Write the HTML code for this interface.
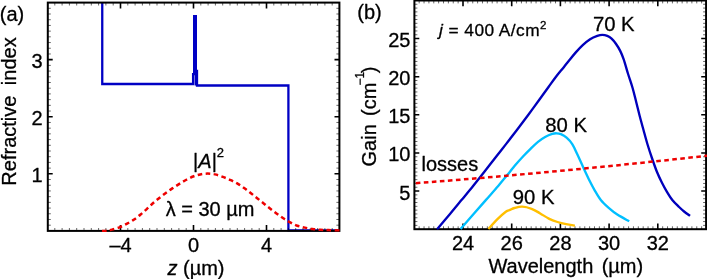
<!DOCTYPE html>
<html><head><meta charset="utf-8"><title>figure</title>
<style>html,body{margin:0;padding:0;background:#fff;}body{width:707px;height:279px;overflow:hidden;font-family:"Liberation Sans", sans-serif;}svg{display:block;}svg{will-change:transform;}</style></head>
<body>
<svg width="707" height="279" viewBox="0 0 707 279" font-family='"Liberation Sans", sans-serif' fill="#000">
<style>text{stroke:#000;stroke-width:0.3px;stroke-linejoin:round;}</style>
<rect width="707" height="279" fill="#fff"/>
<clipPath id="ca"><rect x="47.8" y="2.6" width="292.5" height="229.3"/></clipPath>
<g clip-path="url(#ca)">
<path d="M102.25,2.6 V84 H193.1 V74.2 H194.15 V16.2 H195.85 V85.5 M195.85,70.8 H197 V85.5 H288.4 V230.3 H339.4" fill="none" stroke="#0000c4" stroke-width="2.3" stroke-linejoin="miter"/>
</g>
<rect x="47.8" y="2.6" width="291.6" height="228.3" fill="none" stroke="#000" stroke-width="2.0"/>
<path d="M120.5,230.9 v-5.8 M120.5,2.6 v5.8 M193.5,230.9 v-5.8 M193.5,2.6 v5.8 M266.5,230.9 v-5.8 M266.5,2.6 v5.8" stroke="#000" stroke-width="1.6" fill="none"/>
<path d="M54.8,230.9 v-2.9 M54.8,2.6 v2.9 M62.1,230.9 v-2.9 M62.1,2.6 v2.9 M69.4,230.9 v-2.9 M69.4,2.6 v2.9 M76.7,230.9 v-2.9 M76.7,2.6 v2.9 M84,230.9 v-2.9 M84,2.6 v2.9 M91.3,230.9 v-2.9 M91.3,2.6 v2.9 M98.6,230.9 v-2.9 M98.6,2.6 v2.9 M105.9,230.9 v-2.9 M105.9,2.6 v2.9 M113.2,230.9 v-2.9 M113.2,2.6 v2.9 M127.8,230.9 v-2.9 M127.8,2.6 v2.9 M135.1,230.9 v-2.9 M135.1,2.6 v2.9 M142.4,230.9 v-2.9 M142.4,2.6 v2.9 M149.7,230.9 v-2.9 M149.7,2.6 v2.9 M157,230.9 v-2.9 M157,2.6 v2.9 M164.3,230.9 v-2.9 M164.3,2.6 v2.9 M171.6,230.9 v-2.9 M171.6,2.6 v2.9 M178.9,230.9 v-2.9 M178.9,2.6 v2.9 M186.2,230.9 v-2.9 M186.2,2.6 v2.9 M200.8,230.9 v-2.9 M200.8,2.6 v2.9 M208.1,230.9 v-2.9 M208.1,2.6 v2.9 M215.4,230.9 v-2.9 M215.4,2.6 v2.9 M222.7,230.9 v-2.9 M222.7,2.6 v2.9 M230,230.9 v-2.9 M230,2.6 v2.9 M237.3,230.9 v-2.9 M237.3,2.6 v2.9 M244.6,230.9 v-2.9 M244.6,2.6 v2.9 M251.9,230.9 v-2.9 M251.9,2.6 v2.9 M259.2,230.9 v-2.9 M259.2,2.6 v2.9 M273.8,230.9 v-2.9 M273.8,2.6 v2.9 M281.1,230.9 v-2.9 M281.1,2.6 v2.9 M288.4,230.9 v-2.9 M288.4,2.6 v2.9 M295.7,230.9 v-2.9 M295.7,2.6 v2.9 M303,230.9 v-2.9 M303,2.6 v2.9 M310.3,230.9 v-2.9 M310.3,2.6 v2.9 M317.6,230.9 v-2.9 M317.6,2.6 v2.9 M324.9,230.9 v-2.9 M324.9,2.6 v2.9 M332.2,230.9 v-2.9 M332.2,2.6 v2.9" stroke="#000" stroke-width="0.6" fill="none"/>
<path d="M47.8,173.82 h4.9 M339.4,173.82 h-4.9 M47.8,116.75 h4.9 M339.4,116.75 h-4.9 M47.8,59.67 h4.9 M339.4,59.67 h-4.9" stroke="#000" stroke-width="1.6" fill="none"/>
<path d="M47.8,225.19 h3 M339.4,225.19 h-3 M47.8,219.49 h3 M339.4,219.49 h-3 M47.8,213.78 h3 M339.4,213.78 h-3 M47.8,208.07 h3 M339.4,208.07 h-3 M47.8,202.36 h3 M339.4,202.36 h-3 M47.8,196.66 h3 M339.4,196.66 h-3 M47.8,190.95 h3 M339.4,190.95 h-3 M47.8,185.24 h3 M339.4,185.24 h-3 M47.8,179.53 h3 M339.4,179.53 h-3 M47.8,168.12 h3 M339.4,168.12 h-3 M47.8,162.41 h3 M339.4,162.41 h-3 M47.8,156.7 h3 M339.4,156.7 h-3 M47.8,151 h3 M339.4,151 h-3 M47.8,145.29 h3 M339.4,145.29 h-3 M47.8,139.58 h3 M339.4,139.58 h-3 M47.8,133.87 h3 M339.4,133.87 h-3 M47.8,128.16 h3 M339.4,128.16 h-3 M47.8,122.46 h3 M339.4,122.46 h-3 M47.8,111.04 h3 M339.4,111.04 h-3 M47.8,105.33 h3 M339.4,105.33 h-3 M47.8,99.63 h3 M339.4,99.63 h-3 M47.8,93.92 h3 M339.4,93.92 h-3 M47.8,88.21 h3 M339.4,88.21 h-3 M47.8,82.5 h3 M339.4,82.5 h-3 M47.8,76.8 h3 M339.4,76.8 h-3 M47.8,71.09 h3 M339.4,71.09 h-3 M47.8,65.38 h3 M339.4,65.38 h-3 M47.8,53.97 h3 M339.4,53.97 h-3 M47.8,48.26 h3 M339.4,48.26 h-3 M47.8,42.55 h3 M339.4,42.55 h-3 M47.8,36.84 h3 M339.4,36.84 h-3 M47.8,31.14 h3 M339.4,31.14 h-3 M47.8,25.43 h3 M339.4,25.43 h-3 M47.8,19.72 h3 M339.4,19.72 h-3 M47.8,14.01 h3 M339.4,14.01 h-3 M47.8,8.31 h3 M339.4,8.31 h-3" stroke="#000" stroke-width="0.6" fill="none"/>
<g clip-path="url(#ca)">
<path d="M102,231 C102.83,230.93 105.33,230.83 107,230.6 C108.67,230.37 109.9,230.15 112,229.6 C114.1,229.05 117.08,228.3 119.6,227.3 C122.12,226.3 124.68,224.9 127.1,223.6 C129.52,222.3 131.85,221.02 134.1,219.5 C136.35,217.98 138.45,216.28 140.6,214.5 C142.75,212.72 144.95,210.67 147,208.8 C149.05,206.93 150.85,205.1 152.9,203.3 C154.95,201.5 157.15,199.72 159.3,198 C161.45,196.28 163.63,194.6 165.8,193 C167.97,191.4 170.1,189.88 172.3,188.4 C174.5,186.92 176.73,185.5 179,184.1 C181.27,182.7 183.55,181.27 185.9,180 C188.25,178.73 190.72,177.43 193.1,176.5 C195.48,175.57 197.78,174.88 200.2,174.4 C202.62,173.92 205.13,173.6 207.6,173.6 C210.07,173.6 212.45,173.85 215,174.4 C217.55,174.95 220.27,175.93 222.9,176.9 C225.53,177.87 228.23,179 230.8,180.2 C233.37,181.4 235.9,182.67 238.3,184.1 C240.7,185.53 242.98,187.18 245.2,188.8 C247.42,190.42 249.5,192.15 251.6,193.8 C253.7,195.45 255.73,197.05 257.8,198.7 C259.87,200.35 261.97,202.07 264,203.7 C266.03,205.33 267.92,206.87 270,208.5 C272.08,210.13 274.28,211.87 276.5,213.5 C278.72,215.13 281.02,216.82 283.3,218.3 C285.58,219.78 287.87,221.17 290.2,222.4 C292.53,223.63 294.87,224.83 297.3,225.7 C299.73,226.57 302.27,227.05 304.8,227.6 C307.33,228.15 309.88,228.63 312.5,229 C315.12,229.37 317.82,229.62 320.5,229.8 C323.18,229.98 325.27,230 328.6,230.1 C331.93,230.2 338.52,230.35 340.5,230.4" fill="none" stroke="#ee0000" stroke-width="2.5" stroke-dasharray="4.6 3.45"/>
</g>
<text x="120.5" y="252.3" font-size="20" text-anchor="middle">–4</text>
<text x="193.5" y="252.3" font-size="20" text-anchor="middle">0</text>
<text x="266.5" y="252.3" font-size="20" text-anchor="middle">4</text>
<text x="42.6" y="182.32" font-size="20" text-anchor="end">1</text>
<text x="42.6" y="125.25" font-size="20" text-anchor="end">2</text>
<text x="42.6" y="68.17" font-size="20" text-anchor="end">3</text>
<text x="-0.2" y="21.2" font-size="20" text-anchor="start">(a)</text>
<text x="196" y="275.3" font-size="20" text-anchor="middle"><tspan font-style="italic">z</tspan> (µm)</text>
<text transform="translate(15.8,111.5) rotate(-90)" font-size="20" text-anchor="middle" xml:space="preserve">Refractive  <tspan dx="-0.7">i</tspan>ndex</text>
<text x="208.6" y="167.5" font-size="20" text-anchor="middle">|<tspan font-style="italic">A</tspan>|<tspan font-size="13" dy="-11">2</tspan></text>
<text x="210.1" y="216" font-size="20" text-anchor="middle">λ = 30 µm</text>
<rect x="414.4" y="0.5" width="291.7" height="228.7" fill="none" stroke="#000" stroke-width="2.0"/>
<path d="M463,229.2 v-5.8 M463,0.5 v5.8 M511.7,229.2 v-5.8 M511.7,0.5 v5.8 M560.4,229.2 v-5.8 M560.4,0.5 v5.8 M609.1,229.2 v-5.8 M609.1,0.5 v5.8 M657.8,229.2 v-5.8 M657.8,0.5 v5.8" stroke="#000" stroke-width="1.6" fill="none"/>
<path d="M419.17,229.2 v-2.9 M419.17,0.5 v2.9 M424.04,229.2 v-2.9 M424.04,0.5 v2.9 M428.91,229.2 v-2.9 M428.91,0.5 v2.9 M433.78,229.2 v-2.9 M433.78,0.5 v2.9 M438.65,229.2 v-2.9 M438.65,0.5 v2.9 M443.52,229.2 v-2.9 M443.52,0.5 v2.9 M448.39,229.2 v-2.9 M448.39,0.5 v2.9 M453.26,229.2 v-2.9 M453.26,0.5 v2.9 M458.13,229.2 v-2.9 M458.13,0.5 v2.9 M467.87,229.2 v-2.9 M467.87,0.5 v2.9 M472.74,229.2 v-2.9 M472.74,0.5 v2.9 M477.61,229.2 v-2.9 M477.61,0.5 v2.9 M482.48,229.2 v-2.9 M482.48,0.5 v2.9 M487.35,229.2 v-2.9 M487.35,0.5 v2.9 M492.22,229.2 v-2.9 M492.22,0.5 v2.9 M497.09,229.2 v-2.9 M497.09,0.5 v2.9 M501.96,229.2 v-2.9 M501.96,0.5 v2.9 M506.83,229.2 v-2.9 M506.83,0.5 v2.9 M516.57,229.2 v-2.9 M516.57,0.5 v2.9 M521.44,229.2 v-2.9 M521.44,0.5 v2.9 M526.31,229.2 v-2.9 M526.31,0.5 v2.9 M531.18,229.2 v-2.9 M531.18,0.5 v2.9 M536.05,229.2 v-2.9 M536.05,0.5 v2.9 M540.92,229.2 v-2.9 M540.92,0.5 v2.9 M545.79,229.2 v-2.9 M545.79,0.5 v2.9 M550.66,229.2 v-2.9 M550.66,0.5 v2.9 M555.53,229.2 v-2.9 M555.53,0.5 v2.9 M565.27,229.2 v-2.9 M565.27,0.5 v2.9 M570.14,229.2 v-2.9 M570.14,0.5 v2.9 M575.01,229.2 v-2.9 M575.01,0.5 v2.9 M579.88,229.2 v-2.9 M579.88,0.5 v2.9 M584.75,229.2 v-2.9 M584.75,0.5 v2.9 M589.62,229.2 v-2.9 M589.62,0.5 v2.9 M594.49,229.2 v-2.9 M594.49,0.5 v2.9 M599.36,229.2 v-2.9 M599.36,0.5 v2.9 M604.23,229.2 v-2.9 M604.23,0.5 v2.9 M613.97,229.2 v-2.9 M613.97,0.5 v2.9 M618.84,229.2 v-2.9 M618.84,0.5 v2.9 M623.71,229.2 v-2.9 M623.71,0.5 v2.9 M628.58,229.2 v-2.9 M628.58,0.5 v2.9 M633.45,229.2 v-2.9 M633.45,0.5 v2.9 M638.32,229.2 v-2.9 M638.32,0.5 v2.9 M643.19,229.2 v-2.9 M643.19,0.5 v2.9 M648.06,229.2 v-2.9 M648.06,0.5 v2.9 M652.93,229.2 v-2.9 M652.93,0.5 v2.9 M662.67,229.2 v-2.9 M662.67,0.5 v2.9 M667.54,229.2 v-2.9 M667.54,0.5 v2.9 M672.41,229.2 v-2.9 M672.41,0.5 v2.9 M677.28,229.2 v-2.9 M677.28,0.5 v2.9 M682.15,229.2 v-2.9 M682.15,0.5 v2.9 M687.02,229.2 v-2.9 M687.02,0.5 v2.9 M691.89,229.2 v-2.9 M691.89,0.5 v2.9 M696.76,229.2 v-2.9 M696.76,0.5 v2.9 M701.63,229.2 v-2.9 M701.63,0.5 v2.9" stroke="#000" stroke-width="0.6" fill="none"/>
<path d="M414.4,191.07 h4.9 M706.1,191.07 h-4.9 M414.4,152.95 h4.9 M706.1,152.95 h-4.9 M414.4,114.82 h4.9 M706.1,114.82 h-4.9 M414.4,76.7 h4.9 M706.1,76.7 h-4.9 M414.4,38.57 h4.9 M706.1,38.57 h-4.9" stroke="#000" stroke-width="1.6" fill="none"/>
<path d="M414.4,225.39 h3 M706.1,225.39 h-3 M414.4,221.57 h3 M706.1,221.57 h-3 M414.4,217.76 h3 M706.1,217.76 h-3 M414.4,213.95 h3 M706.1,213.95 h-3 M414.4,210.14 h3 M706.1,210.14 h-3 M414.4,206.32 h3 M706.1,206.32 h-3 M414.4,202.51 h3 M706.1,202.51 h-3 M414.4,198.7 h3 M706.1,198.7 h-3 M414.4,194.89 h3 M706.1,194.89 h-3 M414.4,187.26 h3 M706.1,187.26 h-3 M414.4,183.45 h3 M706.1,183.45 h-3 M414.4,179.64 h3 M706.1,179.64 h-3 M414.4,175.82 h3 M706.1,175.82 h-3 M414.4,172.01 h3 M706.1,172.01 h-3 M414.4,168.2 h3 M706.1,168.2 h-3 M414.4,164.39 h3 M706.1,164.39 h-3 M414.4,160.57 h3 M706.1,160.57 h-3 M414.4,156.76 h3 M706.1,156.76 h-3 M414.4,149.14 h3 M706.1,149.14 h-3 M414.4,145.32 h3 M706.1,145.32 h-3 M414.4,141.51 h3 M706.1,141.51 h-3 M414.4,137.7 h3 M706.1,137.7 h-3 M414.4,133.89 h3 M706.1,133.89 h-3 M414.4,130.07 h3 M706.1,130.07 h-3 M414.4,126.26 h3 M706.1,126.26 h-3 M414.4,122.45 h3 M706.1,122.45 h-3 M414.4,118.64 h3 M706.1,118.64 h-3 M414.4,111.01 h3 M706.1,111.01 h-3 M414.4,107.2 h3 M706.1,107.2 h-3 M414.4,103.39 h3 M706.1,103.39 h-3 M414.4,99.57 h3 M706.1,99.57 h-3 M414.4,95.76 h3 M706.1,95.76 h-3 M414.4,91.95 h3 M706.1,91.95 h-3 M414.4,88.14 h3 M706.1,88.14 h-3 M414.4,84.32 h3 M706.1,84.32 h-3 M414.4,80.51 h3 M706.1,80.51 h-3 M414.4,72.89 h3 M706.1,72.89 h-3 M414.4,69.07 h3 M706.1,69.07 h-3 M414.4,65.26 h3 M706.1,65.26 h-3 M414.4,61.45 h3 M706.1,61.45 h-3 M414.4,57.64 h3 M706.1,57.64 h-3 M414.4,53.82 h3 M706.1,53.82 h-3 M414.4,50.01 h3 M706.1,50.01 h-3 M414.4,46.2 h3 M706.1,46.2 h-3 M414.4,42.39 h3 M706.1,42.39 h-3 M414.4,34.76 h3 M706.1,34.76 h-3 M414.4,30.95 h3 M706.1,30.95 h-3 M414.4,27.14 h3 M706.1,27.14 h-3 M414.4,23.32 h3 M706.1,23.32 h-3 M414.4,19.51 h3 M706.1,19.51 h-3 M414.4,15.7 h3 M706.1,15.7 h-3 M414.4,11.89 h3 M706.1,11.89 h-3 M414.4,8.07 h3 M706.1,8.07 h-3 M414.4,4.26 h3 M706.1,4.26 h-3" stroke="#000" stroke-width="0.6" fill="none"/>
<clipPath id="cb"><rect x="414.4" y="0.5" width="292.6" height="229.7"/></clipPath>
<g clip-path="url(#cb)" fill="none" stroke-width="2.35" stroke-linecap="butt">
<path d="M437.1,229.2 C439.25,226.67 445.93,218.85 450,214 C454.07,209.15 457.65,204.77 461.5,200.1 C465.35,195.43 469.35,190.63 473.1,186 C476.85,181.37 480.33,176.97 484,172.3 C487.67,167.63 491.43,162.7 495.1,158 C498.77,153.3 502.37,148.77 506,144.1 C509.63,139.43 513.23,134.82 516.9,130 C520.57,125.18 524.27,120.23 528,115.2 C531.73,110.17 535.85,104.53 539.3,99.8 C542.75,95.07 545.95,90.6 548.7,86.8 C551.45,83 553.32,80.23 555.8,77 C558.28,73.77 561.45,70.07 563.6,67.4 C565.75,64.73 566.67,63.5 568.7,61 C570.73,58.5 573.42,55.08 575.8,52.4 C578.18,49.72 580.62,47.1 583,44.9 C585.38,42.7 587.72,40.7 590.1,39.2 C592.48,37.7 595.27,36.62 597.3,35.9 C599.33,35.18 600.63,34.9 602.3,34.9 C603.97,34.9 605.75,35.27 607.3,35.9 C608.85,36.53 610.17,37.38 611.6,38.7 C613.03,40.02 614.47,41.77 615.9,43.8 C617.33,45.83 618.9,48.3 620.2,50.9 C621.5,53.5 622.38,55.55 623.7,59.4 C625.02,63.25 626.62,69.23 628.1,74 C629.58,78.77 631.25,83.33 632.6,88 C633.95,92.67 635.02,97.33 636.2,102 C637.38,106.67 638.48,111.33 639.7,116 C640.92,120.67 642.22,125.33 643.5,130 C644.78,134.67 645.97,139.25 647.4,144 C648.83,148.75 650.5,153.83 652.1,158.5 C653.7,163.17 655.33,167.92 657,172 C658.67,176.08 660.42,179.65 662.1,183 C663.78,186.35 665.4,189.27 667.1,192.1 C668.8,194.93 670.3,197.52 672.3,200 C674.3,202.48 677.13,205.08 679.1,207 C681.07,208.92 682.28,210.02 684.1,211.5 C685.92,212.98 689.02,215.17 690,215.9" stroke="#0000bc"/>
<path d="M460.6,229.1 C462.77,226.58 469.37,218.87 473.6,214 C477.83,209.13 481.9,204.57 486,199.9 C490.1,195.23 494.7,190.1 498.2,186 C501.7,181.9 504.07,178.87 507,175.3 C509.93,171.73 513.02,167.85 515.8,164.6 C518.58,161.35 521.2,158.47 523.7,155.8 C526.2,153.13 528.42,150.92 530.8,148.6 C533.18,146.28 535.62,143.83 538,141.9 C540.38,139.97 542.72,138.33 545.1,137 C547.48,135.67 550.38,134.52 552.3,133.9 C554.22,133.28 555.17,133.25 556.6,133.3 C558.03,133.35 559.23,133.47 560.9,134.2 C562.57,134.93 564.68,136.02 566.6,137.7 C568.52,139.38 570.62,141.53 572.4,144.3 C574.18,147.07 575.5,150.48 577.3,154.3 C579.1,158.12 581.07,162.62 583.2,167.2 C585.33,171.78 588.23,178.03 590.1,181.8 C591.97,185.57 592.62,186.77 594.4,189.8 C596.18,192.83 598.42,196.98 600.8,200 C603.18,203.02 605.95,205.47 608.7,207.9 C611.45,210.33 613.88,212.37 617.3,214.6 C620.72,216.83 627.22,220.18 629.2,221.3" stroke="#00bfff"/>
<path d="M488.4,229 C489.87,227.4 494.3,222.28 497.2,219.4 C500.1,216.52 503.67,213.28 505.8,211.7 C507.93,210.12 508.57,210.52 510,209.9 C511.43,209.28 512.37,208.53 514.4,208 C516.43,207.47 519.33,206.57 522.2,206.7 C525.07,206.83 528.6,207.68 531.6,208.8 C534.6,209.92 537.33,211.77 540.2,213.4 C543.07,215.03 545.92,217.17 548.8,218.6 C551.68,220.03 554.62,221.07 557.5,222 C560.38,222.93 563.2,223.6 566.1,224.2 C569,224.8 573.43,225.37 574.9,225.6" stroke="#ffbf00"/>
<path d="M414.4,183.3 Q560.75,172.1 707.1,155.7" stroke="#ee0000" stroke-width="2.5" stroke-dasharray="4.6 3.45" stroke-dashoffset="-1.4"/>
</g>
<text x="463" y="250.3" font-size="20" text-anchor="middle">24</text>
<text x="511.7" y="250.3" font-size="20" text-anchor="middle">26</text>
<text x="560.4" y="250.3" font-size="20" text-anchor="middle">28</text>
<text x="609.1" y="250.3" font-size="20" text-anchor="middle">30</text>
<text x="657.8" y="250.3" font-size="20" text-anchor="middle">32</text>
<text x="410.4" y="199.57" font-size="20" text-anchor="end">5</text>
<text x="410.4" y="161.45" font-size="20" text-anchor="end">10</text>
<text x="410.4" y="123.32" font-size="20" text-anchor="end">15</text>
<text x="410.4" y="85.2" font-size="20" text-anchor="end">20</text>
<text x="410.4" y="47.07" font-size="20" text-anchor="end">25</text>
<text x="357.3" y="19" font-size="20" text-anchor="start">(b)</text>
<text x="565.8" y="273.1" font-size="20" text-anchor="middle" xml:space="preserve">Wavelength <tspan dx="2.8">(</tspan>µm)</text>
<text transform="translate(375.6,116.5) rotate(-90)" font-size="20" text-anchor="middle" xml:space="preserve">Gain <tspan dx="2.7">(</tspan>cm<tspan font-size="12" dy="-11.3" dx="-3">−1</tspan><tspan dy="11.3" dx="-1.3">)</tspan></text>
<text x="439" y="35.7" font-size="17.3" text-anchor="start" letter-spacing="0.45"><tspan font-style="italic">j</tspan> = 400 A/cm<tspan font-size="11.5" dy="-6.5">2</tspan></text>
<text x="592.9" y="31.3" font-size="20.3" text-anchor="start">70 K</text>
<text x="545.2" y="132" font-size="20.3" text-anchor="start">80 K</text>
<text x="512.8" y="204.3" font-size="20.3" text-anchor="start">90 K</text>
<text x="421.5" y="171.2" font-size="20" text-anchor="start">losses</text>
</svg>
</body></html>
